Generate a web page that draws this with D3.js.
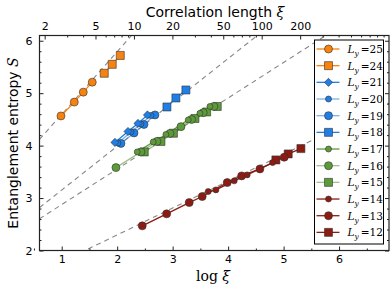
<!DOCTYPE html>
<html>
<head>
<meta charset="utf-8">
<script src="https://cdn.jsdelivr.net/npm/d3@7"></script>
<style>
  body { margin: 0; background: #fff; }
  svg text { font-family: "DejaVu Sans", sans-serif; }
  .serif { font-family: "DejaVu Serif", serif; }
</style>
</head>
<body>
<div id="chart"></div>
<script>
// values: x = log xi, y = S
var ly25 = [[0.987, 4.566], [1.227, 4.83], [1.389, 5.02], [1.551, 5.21]];
var ly24 = [[1.767, 5.38], [1.911, 5.55], [2.056, 5.72]];
var ly21 = [[1.960, 4.061], [2.195, 4.270], [2.375, 4.423], [2.546, 4.585]];
var ly20 = [[2.014, 4.051], [2.249, 4.261], [2.429, 4.413], [2.609, 4.575]];
var ly19 = [[2.068, 4.042], [2.303, 4.242], [2.483, 4.404], [2.681, 4.585]];
var ly18 = [[2.897, 4.737], [3.059, 4.909], [3.239, 5.061]];
var ly17 = [[2.362, 3.880], [2.650, 4.070], [2.879, 4.213], [3.281, 4.490], [3.492, 4.617], [3.672, 4.747]];
var ly16 = [[1.978, 3.581], [2.429, 3.880], [2.717, 4.080], [2.951, 4.232], [3.150, 4.362], [3.342, 4.499], [3.551, 4.629], [3.744, 4.747]];
var ly15 = [[2.488, 3.880], [2.789, 4.080], [3.014, 4.236], [3.402, 4.518], [3.613, 4.642], [3.804, 4.747]];
var ly14 = [[3.641, 3.124], [3.780, 3.156], [4.110, 3.328], [4.344, 3.442], [4.802, 3.676]];
var ly13 = [[2.452, 2.470], [2.892, 2.699], [3.299, 2.914], [3.533, 3.029], [3.984, 3.295], [4.243, 3.423], [4.573, 3.556], [5.011, 3.779]];
var ly12 = [[4.861, 3.728], [5.083, 3.842], [5.312, 3.943]];

// dashed guide lines S = a * log xi + b
var guides = [[1.196, 3.40], [0.836, 2.316], [0.6775, 2.198], [0.513, 1.271]];

var xiTicks = [2, 5, 10, 20, 50, 100, 200];
var xiMinor = [3, 4, 6, 7, 8, 9, 30, 40, 60, 70, 80, 90, 300, 400, 500, 600, 700, 800, 900];

var series = [
  {label: "25", data: ly25, color: "#f7820f", shape: "circle", r: 4, alpha: 1},
  {label: "24", data: ly24, color: "#f7820f", shape: "square", r: 4, alpha: 1},
  {label: "21", data: ly21, color: "#1f7fe6", shape: "diamond", r: 4.6, alpha: 1},
  {label: "20", data: ly20, color: "#1f7fe6", shape: "circle", r: 3, alpha: 0.6},
  {label: "19", data: ly19, color: "#1f7fe6", shape: "circle", r: 4, alpha: 0.6},
  {label: "18", data: ly18, color: "#1f7fe6", shape: "square", r: 4, alpha: 1},
  {label: "17", data: ly17, color: "#5d9a3a", shape: "circle", r: 3, alpha: 1},
  {label: "16", data: ly16, color: "#5d9a3a", shape: "circle", r: 4, alpha: 0.6},
  {label: "15", data: ly15, color: "#5d9a3a", shape: "square", r: 4, alpha: 0.6},
  {label: "14", data: ly14, color: "#8c1c13", shape: "circle", r: 3, alpha: 1},
  {label: "13", data: ly13, color: "#8c1c13", shape: "circle", r: 4, alpha: 1},
  {label: "12", data: ly12, color: "#8c1c13", shape: "square", r: 4, alpha: 1}
];

var width = 392, height = 291,
    margin = {top: 35.5, right: 3, bottom: 40.5, left: 39.5};
var iw = width - margin.left - margin.right,
    ih = height - margin.top - margin.bottom;

var svg = d3.select("#chart").append("svg")
  .attr("width", width).attr("height", height);
var g = svg.append("g").attr("transform", `translate(${margin.left},${margin.top})`);

var x = d3.scaleLinear().domain([0.6, 6.9]).range([0, iw]);
var y = d3.scaleLinear().domain([2, 6.1]).range([ih, 0]);
var xXi = d3.scaleLog().domain([Math.exp(0.6), Math.exp(6.9)]).range([0, iw]);

g.append("clipPath").attr("id", "clip")
  .append("rect").attr("width", iw).attr("height", ih);

var plot = g.append("g").attr("clip-path", "url(#clip)");

// guide lines
guides.forEach(function(p) {
  plot.append("line")
    .attr("x1", x(0.6)).attr("y1", y(p[0] * 0.6 + p[1]))
    .attr("x2", x(6.9)).attr("y2", y(p[0] * 6.9 + p[1]))
    .attr("stroke", "#888").attr("stroke-width", 1.1)
    .attr("stroke-dasharray", "5,4");
});

function symbolFor(s) {
  if (s.shape == "square") return d3.symbol(d3.symbolSquare, (2 * s.r) * (2 * s.r));
  if (s.shape == "diamond") return d3.symbol(d3.symbolDiamond2, 2 * s.r * s.r);
  return d3.symbol(d3.symbolCircle, Math.PI * s.r * s.r);
}

var line = d3.line().x(d => x(d[0])).y(d => y(d[1]));

series.slice().reverse().forEach(function(s) {
  plot.append("path").datum(s.data)
    .attr("d", line).attr("fill", "none")
    .attr("stroke", s.color).attr("stroke-width", 1.3)
    .attr("stroke-opacity", s.alpha);
});
series.slice().reverse().forEach(function(s) {
  plot.selectAll(null).data(s.data).enter().append("path")
    .attr("d", symbolFor(s))
    .attr("transform", d => `translate(${x(d[0])},${y(d[1])})`)
    .attr("fill", s.color).attr("stroke", "#333").attr("stroke-width", 0.6);
});

// axes, ticks inward
var tickStyle = sel => {
  sel.select(".domain").remove();
  sel.selectAll("line").attr("stroke", "#222");
  sel.selectAll("text").attr("font-size", 11).attr("fill", "#000");
};
var xMinorVals = d3.range(0.5, 7, 0.5).filter(v => v % 1 != 0);
var yMinorVals = d3.range(2, 6.11, 0.2).filter(v => Math.abs(v - Math.round(v)) > 0.01);

g.append("g").attr("transform", `translate(0,${ih})`)
  .call(d3.axisBottom(x).tickValues([1, 2, 3, 4, 5, 6]).tickSize(-4).tickPadding(5).tickFormat(d3.format("d")))
  .call(tickStyle);
g.append("g").attr("transform", `translate(0,${ih})`)
  .call(d3.axisBottom(x).tickValues(xMinorVals).tickSize(-2).tickFormat(""))
  .call(tickStyle);

g.append("g")
  .call(d3.axisLeft(y).tickValues([2, 3, 4, 5, 6]).tickSize(-4).tickPadding(7).tickFormat(d3.format("d")))
  .call(tickStyle);
g.append("g")
  .call(d3.axisLeft(y).tickValues(yMinorVals).tickSize(-2).tickFormat(""))
  .call(tickStyle);
g.append("g").attr("transform", `translate(${iw},0)`)
  .call(d3.axisRight(y).tickValues([2, 3, 4, 5, 6]).tickSize(-4).tickFormat(""))
  .call(tickStyle);
g.append("g").attr("transform", `translate(${iw},0)`)
  .call(d3.axisRight(y).tickValues(yMinorVals).tickSize(-2).tickFormat(""))
  .call(tickStyle);

g.append("g")
  .call(d3.axisTop(xXi).tickValues(xiTicks).tickSize(-4).tickPadding(6).tickFormat(d3.format("d")))
  .call(tickStyle);
g.append("g")
  .call(d3.axisTop(xXi).tickValues(xiMinor).tickSize(-2).tickFormat(""))
  .call(tickStyle);

g.append("rect").attr("width", iw).attr("height", ih)
  .attr("fill", "none").attr("stroke", "#222").attr("stroke-width", 1.2);

// labels
svg.append("text").attr("x", 213).attr("y", 281).attr("text-anchor", "middle")
  .attr("class", "serif").attr("font-size", 14)
  .text("log ").append("tspan").attr("font-style", "italic").text("ξ");

var topLabel = svg.append("text").attr("x", 215).attr("y", 17).attr("text-anchor", "middle")
  .attr("font-size", 14).text("Correlation length ");
topLabel.append("tspan").attr("class", "serif").attr("font-style", "italic").text("ξ");

var yLabel = svg.append("text")
  .attr("transform", `translate(18,${margin.top + ih / 2}) rotate(-90)`)
  .attr("text-anchor", "middle").attr("font-size", 14).text("Entanglement entropy ");
yLabel.append("tspan").attr("class", "serif").attr("font-style", "italic").text("S");

// legend
var lg = svg.append("g").attr("transform", "translate(314.5,40)");
lg.append("rect").attr("width", 69).attr("height", 204)
  .attr("fill", "#fff").attr("stroke", "#000").attr("stroke-width", 1);
series.forEach(function(s, i) {
  var row = lg.append("g").attr("transform", `translate(0,${9 + i * 16.67})`);
  row.append("line").attr("x1", 2).attr("x2", 25)
    .attr("stroke", s.color).attr("stroke-width", 1.3).attr("stroke-opacity", s.alpha);
  row.append("path").attr("d", symbolFor(s)).attr("transform", "translate(14,0)")
    .attr("fill", s.color).attr("stroke", "#333").attr("stroke-width", 0.6);
  var t = row.append("text").attr("x", 33).attr("y", 4).attr("class", "serif").attr("font-size", 10.5);
  t.append("tspan").attr("font-style", "italic").text("L");
  t.append("tspan").attr("font-style", "italic").attr("font-size", 7.5).attr("dy", 3).text("y");
  t.append("tspan").attr("dy", -3).attr("dx", 2).text("=" + s.label);
});
</script>
</body>
</html>
